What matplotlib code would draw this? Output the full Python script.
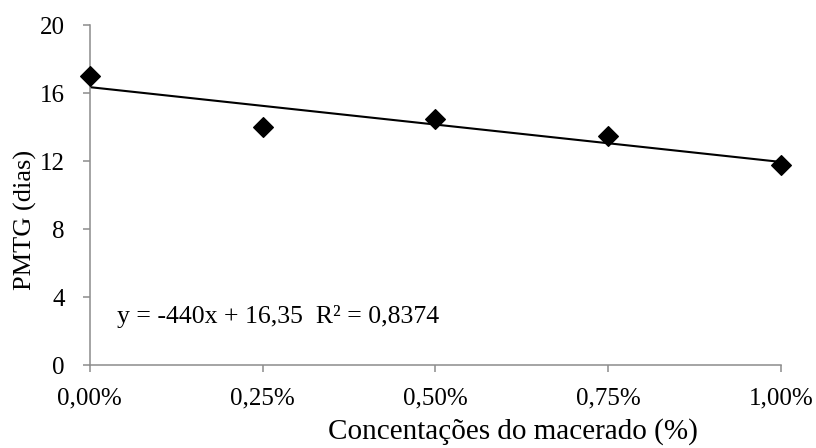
import matplotlib

matplotlib.use("Agg")
import matplotlib.pyplot as plt  # noqa: E402
from matplotlib.ticker import FuncFormatter  # noqa: E402

concentrations = [0.0, 0.0025, 0.005, 0.0075, 0.01]
pmtg_days = [17.0, 14.0, 14.5, 13.5, 11.75]
y_ticks = [0, 4, 8, 12, 16, 20]
slope = -440
intercept = 16.35
r_squared = "0,8374"

plt.rcParams["font.family"] = ["Liberation Serif", "DejaVu Serif"]

fig = plt.figure(figsize=(8.16, 4.48), dpi=100)
ax = fig.add_axes([0.110, 0.185, 0.847, 0.759])

# linear trendline over the full x range
trend_x = [concentrations[0], concentrations[-1]]
trend_y = [slope * x + intercept for x in trend_x]
ax.plot(trend_x, trend_y, color="black", lw=1.5, zorder=2)
ax.scatter(concentrations, pmtg_days, marker="D", s=100, color="black",
           zorder=3, clip_on=False)

ax.set_xlim(0, 0.01)
ax.set_ylim(0, 20)
ax.set_xticks(concentrations)
ax.set_yticks(y_ticks)
ax.xaxis.set_major_formatter(
    FuncFormatter(lambda v, _: f"{v * 100:.2f}%".replace(".", ",")))

for side in ("top", "right"):
    ax.spines[side].set_visible(False)
for side in ("left", "bottom"):
    ax.spines[side].set_color("#8c8c8c")
    ax.spines[side].set_linewidth(1.1)
ax.tick_params(axis="both", colors="#8c8c8c", length=5, width=1.1,
               labelcolor="black", labelsize=18)
ax.tick_params(axis="x", pad=11)
ax.tick_params(axis="y", pad=13)

ax.set_xlabel("Concentações do macerado (%)", fontsize=21, va="bottom")
ax.xaxis.set_label_coords(0.613, -0.235)
ax.set_ylabel("PMTG (dias)", fontsize=19)
ax.yaxis.set_label_coords(-0.076, 0.426)

eq = f"y = {slope}x + {intercept:.2f}".replace(".", ",")
ax.text(0.00039, 2.85, eq + f"  R² = {r_squared}",
        fontsize=18.5, va="center", ha="left")

fig.savefig("out.png", dpi=100)
